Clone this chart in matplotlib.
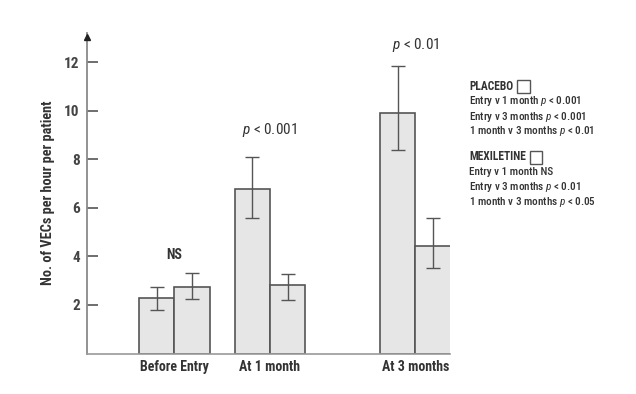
import matplotlib
matplotlib.use("Agg")
import matplotlib.pyplot as plt
from matplotlib.patches import Rectangle
from matplotlib import font_manager

# ---- data ----
categories = ["Before Entry", "At 1 month", "At 3 months"]
placebo = [2.30, 6.76, 9.90]
placebo_err_low = [1.79, 5.60, 8.38]
placebo_err_high = [2.73, 8.11, 11.85]
mexiletine = [2.75, 2.82, 4.43]
mexiletine_err_low = [2.26, 2.20, 3.54]
mexiletine_err_high = [3.30, 3.27, 5.60]
yticks = [2, 4, 6, 8, 10, 12]
annotations = ["NS", "$p$ < 0.001", "$p$ < 0.01"]
annotation_y = [4.05, 9.2, 12.7]
placebo_notes = ["Entry v 1 month $p$ < 0.001", "Entry v 3 months $p$ < 0.001", "1 month v 3 months $p$ < 0.01"]
mexiletine_notes = ["Entry v 1 month NS", "Entry v 3 months $p$ < 0.01", "1 month v 3 months $p$ < 0.05"]

# ---- layout ----
group_pos = [2.48, 5.19, 9.31]
bw = 1.0

names = {f.name for f in font_manager.fontManager.ttflist}
candidates = ["Liberation Sans Narrow", "Roboto Condensed", "Archivo Narrow", "Arial Narrow",
              "PT Sans Narrow", "Barlow Condensed", "Asap Condensed", "IBM Plex Sans Condensed",
              "Encode Sans Condensed", "Open Sans Condensed", "Fira Sans Condensed", "DejaVu Sans"]
FAM = next(c for c in candidates if c in names or c == "DejaVu Sans")
plt.rcParams["font.family"] = [FAM, "DejaVu Sans"]
plt.rcParams["mathtext.fontset"] = "custom"
plt.rcParams["mathtext.it"] = FAM + ":italic"
plt.rcParams["mathtext.rm"] = FAM

W, H = 636, 394
fig = plt.figure(figsize=(W / 100, H / 100), dpi=100)
L, R, B, T = 86.7, 450, 353.5, 33
ax = fig.add_axes([L / W, (H - B) / H, (R - L) / W, (B - T) / H])
ax.set_xlim(0, (R - L) / 35.3)
ax.set_ylim(0, (B - T) / 24.27)

fill = "#e6e6e6"
edge = "#555555"
for i in range(3):
    xp = group_pos[i] - bw / 2
    xm = group_pos[i] + bw / 2
    ax.bar(xp, placebo[i], width=bw, color=fill, edgecolor=edge, linewidth=1.2, zorder=2)
    ax.bar(xm, mexiletine[i], width=bw, color=fill, edgecolor=edge, linewidth=1.2, zorder=2)
    ax.errorbar(xp, placebo[i],
                yerr=[[placebo[i] - placebo_err_low[i]], [placebo_err_high[i] - placebo[i]]],
                fmt="none", ecolor=edge, elinewidth=1.0, capsize=4.8, capthick=1.0, zorder=3)
    ax.errorbar(xm, mexiletine[i],
                yerr=[[mexiletine[i] - mexiletine_err_low[i]], [mexiletine_err_high[i] - mexiletine[i]]],
                fmt="none", ecolor=edge, elinewidth=1.0, capsize=4.8, capthick=1.0, zorder=3)
    ax.text(group_pos[i], annotation_y[i], annotations[i], ha="center", va="center",
            fontsize=11 if i else 10, color="#333333",
            fontweight="bold" if i == 0 else "normal")

for s in ["top", "right"]:
    ax.spines[s].set_visible(False)
ax.spines["left"].set_color("#8a8a8a")
ax.spines["left"].set_linewidth(1.3)
ax.spines["bottom"].set_color("#9a9a9a")
ax.spines["bottom"].set_linewidth(1.2)
ax.plot([0], [13.05], marker="^", color="#222222", markersize=5, clip_on=False, zorder=5)

ax.set_yticks(yticks)
ax.set_yticklabels([str(v) for v in yticks], fontsize=11, fontweight="bold", color="#444444")
ax.tick_params(axis="y", direction="in", length=8, width=1.2, color="#555555", pad=5)
ax.set_xticks(group_pos)
ax.set_xticklabels(categories, fontsize=10, fontweight="bold", color="#333333")
ax.tick_params(axis="x", length=0, pad=5)

fig.text(48 / W, 1 - 193 / H, "No. of VECs per hour per patient", rotation=90,
         ha="center", va="center", fontsize=10.3, fontweight="bold", color="#333333")

# side notes
def ftext(x, y, s, **kw):
    return fig.text(x / W, 1 - y / H, s, ha="left", va="center", color="#333333", **kw)

fig.canvas.draw()
r = fig.canvas.get_renderer()
t1 = ftext(469, 86, "PLACEBO", fontsize=8.3, fontweight="bold")
bb = t1.get_window_extent(r)
fig.patches.append(Rectangle((bb.x1 + 4, H - 92.5), 12.5, 12.5, transform=None,
                             fill=False, edgecolor="#555555", lw=1))
for k, s in enumerate(placebo_notes):
    ftext(469, 101.5 + 15 * k, s, fontsize=8.0, fontweight="medium")
t2 = ftext(469, 157, "MEXILETINE", fontsize=8.3, fontweight="bold")
bb = t2.get_window_extent(r)
fig.patches.append(Rectangle((bb.x1 + 4, H - 163.5), 12.5, 12.5, transform=None,
                             fill=False, edgecolor="#555555", lw=1))
for k, s in enumerate(mexiletine_notes):
    ftext(469, 172 + 14.8 * k, s, fontsize=8.0, fontweight="medium")

fig.savefig("out.png", dpi=100)
